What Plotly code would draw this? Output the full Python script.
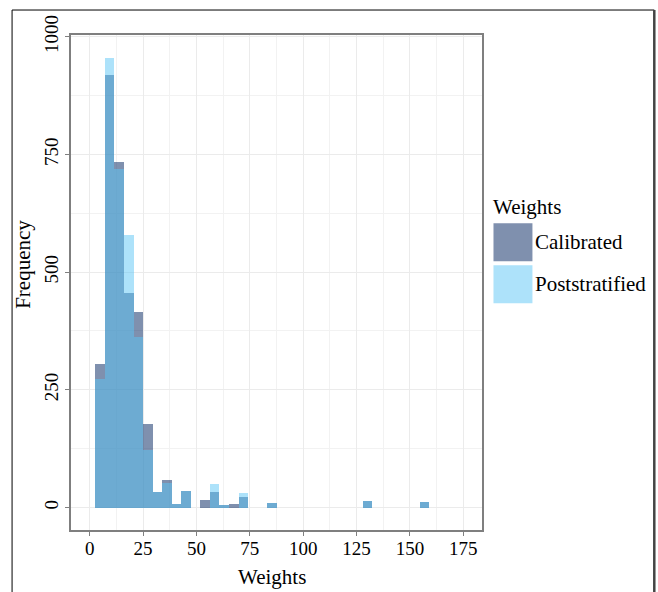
import plotly.graph_objects as go

# ---- data ----
bin_start = 2.65
bin_width = 4.47
calibrated = [305, 918, 733, 455, 415, 178, 33, 59, 7, 35, 0, 17, 34, 5, 7, 23, 0, 0, 9,
              0, 0, 0, 0, 0, 0, 0, 0, 0, 13, 0, 0, 0, 0, 0, 11]
poststratified = [274, 956, 720, 578, 363, 122, 32, 53, 7, 35, 0, 0, 50, 5, 0, 30, 0, 0, 9,
                  0, 0, 0, 0, 0, 0, 0, 0, 0, 13, 0, 0, 0, 0, 0, 11]
x_ticks = [0, 25, 50, 75, 100, 125, 150, 175]
y_ticks = [0, 250, 500, 750, 1000]
series_names = ["Calibrated", "Poststratified"]
legend_title = "Weights"
x_title = "Weights"
y_title = "Frequency"

centers = [bin_start + (i + 0.5) * bin_width for i in range(len(calibrated))]

W, H = 658, 592
L, R, T, B = 71, 482.5, 35, 530.5   # pixel coords of plot panel
FONT = "Liberation Serif, Times New Roman, serif"

def px(x):
    return (x - L) / (R - L)

def py(y):
    return (B - y) / (B - T)

cal_col = "rgba(0,34,94,0.5)"
post_col = "rgba(91,197,245,0.5)"

fig = go.Figure()
fig.add_trace(go.Bar(x=centers, y=calibrated, width=bin_width, name=series_names[0],
                     marker=dict(color=cal_col, line=dict(width=0))))
fig.add_trace(go.Bar(x=centers, y=poststratified, width=bin_width, name=series_names[1],
                     marker=dict(color=post_col, line=dict(width=0))))

fig.update_layout(
    width=W, height=H,
    margin=dict(l=L, r=W - R, t=T, b=H - B, pad=0),
    barmode="overlay", bargap=0,
    showlegend=False,
    paper_bgcolor="white", plot_bgcolor="white",
    font=dict(family=FONT, color="black", size=19),
)
fig.update_xaxes(
    range=[-8.75, 183.75], tickvals=x_ticks, ticks="outside", ticklen=4, tickcolor="#7f7f7f",
    tickfont=dict(size=19, family=FONT, color="black"), ticklabelstandoff=-4,
    showline=True, mirror=True, linecolor="#7f7f7f", linewidth=1.5,
    showgrid=True, gridcolor="#ebebeb", gridwidth=1,
    minor=dict(tickvals=[12.5, 37.5, 62.5, 87.5, 112.5, 137.5, 162.5], showgrid=True,
               gridcolor="#f2f2f2", gridwidth=1),
    zeroline=False,
)
fig.update_yaxes(
    range=[-47.8, 1003.8], tickvals=y_ticks, ticks="outside", ticklen=4, tickcolor="#7f7f7f",
    tickangle=-90, tickfont=dict(size=19, family=FONT, color="black"),
    showline=True, mirror=True, linecolor="#7f7f7f", linewidth=1.5,
    showgrid=True, gridcolor="#ebebeb", gridwidth=1,
    minor=dict(tickvals=[125, 375, 625, 875], showgrid=True, gridcolor="#f2f2f2", gridwidth=1),
    zeroline=False,
)

# axis titles
fig.add_annotation(x=px(272), y=py(578), xref="paper", yref="paper", text=x_title,
                   showarrow=False, font=dict(size=21, family=FONT, color="black"),
                   xanchor="center", yanchor="middle")
fig.add_annotation(x=px(23), y=py(265), xref="paper", yref="paper", text=y_title,
                   showarrow=False, textangle=-90, font=dict(size=21, family=FONT, color="black"),
                   xanchor="center", yanchor="middle")

# legend (drawn manually to match large key boxes)
fig.add_annotation(x=px(492), y=py(207.5), xref="paper", yref="paper", text=legend_title,
                   showarrow=False, font=dict(size=21, family=FONT, color="black"),
                   xanchor="left", yanchor="middle")
keys = [(223.5, 261.5, cal_col), (265.5, 303.5, post_col)]
for (y0, y1, col), name in zip(keys, series_names):
    fig.add_shape(type="rect", xref="paper", yref="paper", x0=px(494), x1=px(533),
                  y0=py(y1), y1=py(y0), fillcolor=col, line=dict(width=0))
    fig.add_annotation(x=px(534), y=py((y0 + y1) / 2), xref="paper", yref="paper", text=name,
                       showarrow=False, font=dict(size=21, family=FONT, color="black"),
                       xanchor="left", yanchor="middle")

# outer frame
fig.add_shape(type="line", xref="paper", yref="paper", x0=px(12), x1=px(12), y0=py(10), y1=py(600),
              line=dict(color="black", width=1))
fig.add_shape(type="line", xref="paper", yref="paper", x0=px(12), x1=px(655), y0=py(10), y1=py(10),
              line=dict(color="black", width=1))
fig.add_shape(type="line", xref="paper", yref="paper", x0=px(655), x1=px(655), y0=py(10), y1=py(600),
              line=dict(color="#444444", width=2.5))

fig.write_html("out.html", config={"displayModeBar": False},
               post_script="document.body.style.margin='0';document.body.style.overflow='hidden';")
